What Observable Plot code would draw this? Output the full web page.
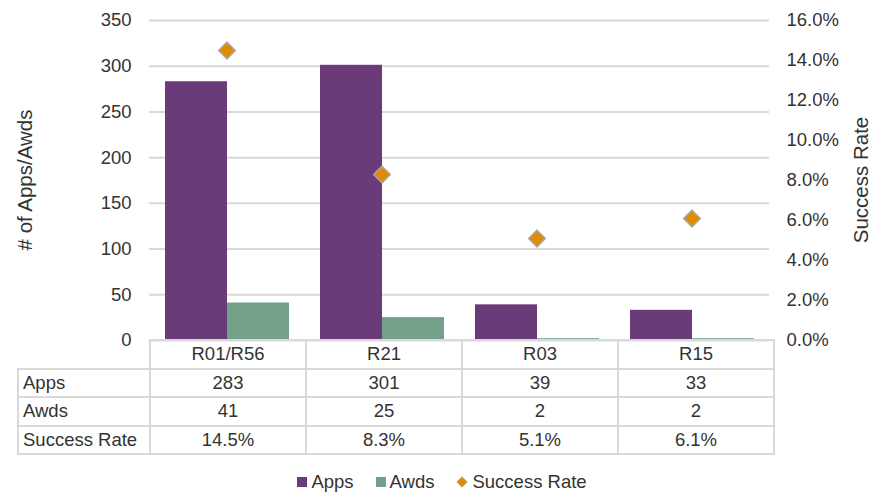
<!DOCTYPE html>
<html><head><meta charset="utf-8">
<script src="https://cdn.jsdelivr.net/npm/d3@7"></script>
<script src="https://cdn.jsdelivr.net/npm/@observablehq/plot@0.6"></script>
<style>
body{margin:0;background:#fff;font-family:"Liberation Sans",Arial,sans-serif;color:#333;}
#wrap{position:relative;width:873px;height:492px;overflow:hidden;}
#chart{position:absolute;left:0;top:0;}
.title{position:absolute;font-size:20.5px;white-space:nowrap;transform:translate(-50%,-50%) rotate(-90deg);}
table{position:absolute;left:17px;top:339px;border-collapse:collapse;font-size:18.5px;}
td{border:2px solid #d9d9d9;height:26.5px;padding:0;text-align:center;line-height:26px;}
td.lab{text-align:left;padding-left:4px;width:126px;}
td.empty{border:none;border-right:2px solid #d9d9d9;background:transparent;}
td.col{width:154px;}
#legend{position:absolute;top:471px;left:0;width:873px;display:flex;justify-content:center;font-size:18.5px;padding-left:11px;box-sizing:border-box;}
.item{display:flex;align-items:center;margin-right:22px;}
.item:last-child{margin-right:0;}
.item svg{margin-right:4px;}
</style></head><body><div id="wrap"><div id="chart"></div></div>
<script>
const categories = ["R01/R56","R21","R03","R15"];
const series = ["Apps","Awds"];
const apps = [283,301,39,33];
const awds = [41,25,2,2];
const successRate = [0.145,0.083,0.051,0.061];
const yTicks = [0,50,100,150,200,250,300,350];
const rateTicks = [0,0.02,0.04,0.06,0.08,0.10,0.12,0.14,0.16];
const yMax = 350, rateMax = 0.16;
const seriesColors = ["#6B3A78","#72A088"];
const rateFill = "#E08C00", rateStroke = "#A6A6A6";
const toLeft = r => r * yMax / rateMax;

const bars = categories.flatMap((c,i)=>[
  {cat:c, series:"Apps", value:apps[i]},
  {cat:c, series:"Awds", value:awds[i]}
]);
const rates = categories.map((c,i)=>({cat:c, rate:successRate[i]}));

const chart = Plot.plot({
  width:873, height:350, marginTop:20, marginBottom:10, marginLeft:148, marginRight:103,
  style:{fontFamily:'"Liberation Sans",Arial,sans-serif', fontSize:"18.5px", color:"#333", background:"transparent", overflow:"visible"},
  fx:{domain:categories, padding:0, axis:null},
  x:{domain:series, paddingInner:0, paddingOuter:0.244, axis:null},
  y:{domain:[0,yMax]},
  color:{domain:series, range:seriesColors},
  marks:[
    Plot.gridY(yTicks, {stroke:"#d9d9d9", strokeOpacity:1, strokeWidth:2}),
    Plot.barY(bars, {fx:"cat", x:"series", y:"value", fill:"series"}),
    Plot.dot(rates, {fx:"cat", y:d=>toLeft(d.rate), symbol:"diamond2", r:7.5, fill:rateFill, stroke:rateStroke, strokeWidth:1.5}),
    Plot.axisY(yTicks, {anchor:"left", tickSize:0, tickPadding:18, label:null}),
    Plot.axisY(rateTicks.map(toLeft), {anchor:"right", tickSize:0, tickPadding:17, label:null,
      tickFormat:v => (Math.round(v/yMax*rateMax*1000)/10).toFixed(1)+"%"})
  ]
});
const wrap = document.getElementById("wrap");
document.getElementById("chart").appendChild(chart);

// axis titles
const lt = document.createElement("div"); lt.className="title"; lt.textContent="# of Apps/Awds";
lt.style.left="25px"; lt.style.top="180px"; wrap.appendChild(lt);
const rt = document.createElement("div"); rt.className="title"; rt.textContent="Success Rate";
rt.style.left="861px"; rt.style.top="180px"; wrap.appendChild(rt);

// data table
const table = d3.select(wrap).append("table");
const head = table.append("tr");
head.append("td").attr("class","lab empty");
categories.forEach(c=>head.append("td").attr("class","col").text(c));
const rows = [
  ["Apps", apps.map(String)],
  ["Awds", awds.map(String)],
  ["Success Rate", successRate.map(r=>(r*100).toFixed(1)+"%")]
];
rows.forEach(([lab,vals])=>{
  const tr = table.append("tr");
  tr.append("td").attr("class","lab").text(lab);
  vals.forEach(v=>tr.append("td").attr("class","col").text(v));
});

// legend
const legend = d3.select(wrap).append("div").attr("id","legend");
series.forEach((s,i)=>{
  const it = legend.append("div").attr("class","item");
  const sv = it.append("svg").attr("width",10).attr("height",10);
  sv.append("rect").attr("width",10).attr("height",10).attr("fill",seriesColors[i]);
  it.append("span").text(s);
});
{
  const it = legend.append("div").attr("class","item");
  const sv = it.append("svg").attr("width",12).attr("height",12);
  sv.append("path").attr("d","M6,0.8L11.2,6L6,11.2L0.8,6Z").attr("fill",rateFill).attr("stroke",rateStroke).attr("stroke-width",1);
  it.append("span").text("Success Rate");
}
</script>
</body></html>
